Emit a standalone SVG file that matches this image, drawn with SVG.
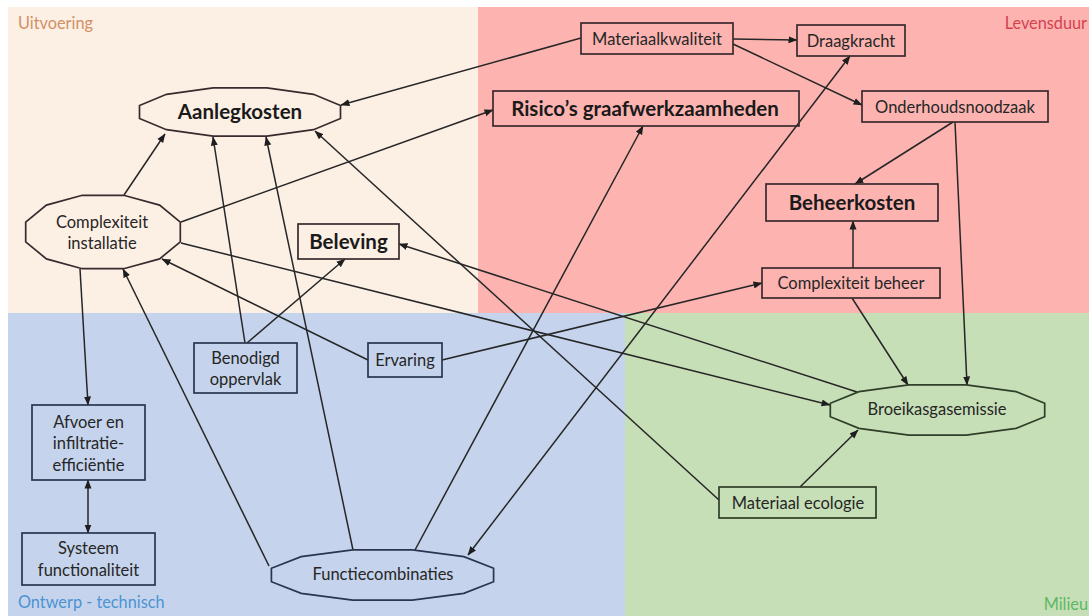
<svg xmlns="http://www.w3.org/2000/svg" width="1089" height="616" viewBox="0 0 1089 616">
<style>
.lbl{font-family:Lato,"Liberation Sans",sans-serif;font-size:16.5px;fill:#262626;text-anchor:middle}
.big{font-family:Lato,"Liberation Sans",sans-serif;font-size:20.5px;font-weight:bold;fill:#1a1a1a;text-anchor:middle}
.zone{font-family:Lato,"Liberation Sans",sans-serif;font-size:16.3px}
.box{fill:none;stroke:#3a2a2e;stroke-width:1.7}
.bb{fill:none;stroke:#2a3550;stroke-width:1.7}
.gb{fill:none;stroke:#2f3f28;stroke-width:1.7}
.c line{stroke:#262626;stroke-width:1.5;fill:none}
</style>
<defs>
<marker id="ah" markerWidth="9" markerHeight="8" refX="8.5" refY="4" orient="auto" markerUnits="userSpaceOnUse">
<path d="M0,0.5 L9,4 L0,7.5 z" fill="#1e1e1e"/>
</marker>
<marker id="at" markerWidth="9" markerHeight="8" refX="0.5" refY="4" orient="auto" markerUnits="userSpaceOnUse">
<path d="M9,0.5 L0,4 L9,7.5 z" fill="#1e1e1e"/>
</marker>
</defs>
<rect width="1089" height="616" fill="#ffffff"/>
<g id="background">
<rect x="8" y="7" width="470" height="306" fill="#fcefe4"/>
<rect x="478" y="7" width="611" height="306" fill="#fdb4b1"/>
<rect x="8" y="313" width="617" height="303" fill="#c5d4ec"/>
<rect x="625" y="313" width="464" height="303" fill="#c7dfb7"/>
<text class="zone" x="18" y="29" fill="#d39066">Uitvoering</text>
<text class="zone" x="1087" y="29" fill="#d2434e" text-anchor="end">Levensduur</text>
<text class="zone" x="18" y="608" fill="#4c93d3">Ontwerp - technisch</text>
<text class="zone" x="1088" y="610" fill="#5db865" text-anchor="end">Milieu</text>
</g>
<g class="c" id="connectors">
<line x1="581" y1="38" x2="341" y2="105" marker-end="url(#ah)"/>
<line x1="733" y1="39" x2="797" y2="40" marker-end="url(#ah)"/>
<line x1="733" y1="44" x2="862" y2="105" marker-end="url(#ah)"/>
<line x1="953" y1="122" x2="855" y2="184" marker-end="url(#ah)"/>
<line x1="955" y1="122" x2="967" y2="385" marker-end="url(#ah)"/>
<line x1="853" y1="268" x2="853" y2="221" marker-end="url(#ah)"/>
<line x1="852" y1="298" x2="908" y2="385" marker-end="url(#ah)"/>
<line x1="442" y1="360" x2="762" y2="283" marker-end="url(#ah)"/>
<line x1="368" y1="360" x2="162" y2="259" marker-end="url(#ah)"/>
<line x1="80" y1="269" x2="88" y2="405" marker-end="url(#ah)"/>
<line x1="88" y1="480" x2="88" y2="533" marker-start="url(#at)" marker-end="url(#ah)"/>
<line x1="124" y1="195" x2="165" y2="134" marker-end="url(#ah)"/>
<line x1="181" y1="222" x2="493" y2="110" marker-end="url(#ah)"/>
<line x1="181" y1="243" x2="830" y2="405" marker-end="url(#ah)"/>
<line x1="857" y1="392" x2="399" y2="244" marker-end="url(#ah)"/>
<line x1="247" y1="343" x2="345" y2="259" marker-end="url(#ah)"/>
<line x1="245" y1="343" x2="213" y2="137" marker-end="url(#ah)"/>
<line x1="269" y1="566" x2="123" y2="269" marker-end="url(#ah)"/>
<line x1="353" y1="550" x2="266" y2="137" marker-end="url(#ah)"/>
<line x1="415" y1="550" x2="643" y2="126" marker-end="url(#ah)"/>
<line x1="850" y1="56" x2="468" y2="555" marker-start="url(#at)" marker-end="url(#ah)"/>
<line x1="800" y1="487" x2="858" y2="430" marker-end="url(#ah)"/>
<line x1="719" y1="500" x2="315" y2="131" marker-end="url(#ah)"/>
</g>
<g id="aanlegkosten">
<polygon class="box" points="340.5,105.5 313.5,94.3 266.9,87.8 213.1,87.8 166.5,94.3 139.5,105.5 139.5,118.5 166.5,129.7 213.1,136.2 266.9,136.2 313.5,129.7 340.5,118.5"/>
<text class="big" x="240" y="119">Aanlegkosten</text>
</g>
<g id="risicos">
<rect class="box" x="493" y="91" width="306" height="35"/>
<text class="big" x="645" y="115.5">Risico’s graafwerkzaamheden</text>
</g>
<g id="materiaalkwaliteit">
<rect class="box" x="581" y="23" width="152" height="31"/>
<text class="lbl" x="657" y="44.5">Materiaalkwaliteit</text>
</g>
<g id="draagkracht">
<rect class="box" x="797" y="25" width="108" height="31"/>
<text class="lbl" x="851" y="46.5">Draagkracht</text>
</g>
<g id="onderhoudsnoodzaak">
<rect class="box" x="862" y="91" width="186" height="31"/>
<text class="lbl" x="955" y="112.5">Onderhoudsnoodzaak</text>
</g>
<g id="beheerkosten">
<rect class="box" x="766" y="184" width="172" height="37"/>
<text class="big" x="852" y="209.5">Beheerkosten</text>
</g>
<g id="complexiteit-beheer">
<rect class="box" x="762" y="268" width="178" height="30"/>
<text class="lbl" x="851" y="289">Complexiteit beheer</text>
</g>
<g id="broeikasgasemissie">
<polygon class="gb" points="1044.7,403.3 1016,391.6 966.2,384.9 908.8,384.9 859,391.6 830.3,403.3 830.3,416.7 859,428.4 908.8,435.1 966.2,435.1 1016,428.4 1044.7,416.7"/>
<text class="lbl" x="937" y="415">Broeikasgasemissie</text>
</g>
<g id="materiaal-ecologie">
<rect class="gb" x="719" y="487" width="157" height="31"/>
<text class="lbl" x="798" y="508.5">Materiaal ecologie</text>
</g>
<g id="complexiteit-installatie">
<polygon class="box" points="180.3,222.2 159.6,205.1 123.7,195.3 82.3,195.3 46.4,205.1 25.7,222.2 25.7,241.8 46.4,258.9 82.3,268.7 123.7,268.7 159.6,258.9 180.3,241.8"/>
<text class="lbl" x="102" y="228">Complexiteit</text>
<text class="lbl" x="102" y="249">installatie</text>
</g>
<g id="beleving">
<rect class="box" x="298" y="224" width="101" height="35"/>
<text class="big" x="348.5" y="248.5">Beleving</text>
</g>
<g id="benodigd-oppervlak">
<rect class="bb" x="194" y="343" width="103" height="50"/>
<text class="lbl" x="245.5" y="363.5">Benodigd</text>
<text class="lbl" x="245.5" y="385">oppervlak</text>
</g>
<g id="ervaring">
<rect class="bb" x="368" y="343" width="74" height="34"/>
<text class="lbl" x="405" y="366">Ervaring</text>
</g>
<g id="afvoer">
<rect class="bb" x="32" y="405" width="113" height="75"/>
<text class="lbl" x="88.5" y="428">Afvoer en</text>
<text class="lbl" x="88.5" y="449">infiltratie-</text>
<text class="lbl" x="88.5" y="471">efficiëntie</text>
</g>
<g id="systeem">
<rect class="bb" x="22" y="533" width="133" height="52"/>
<text class="lbl" x="88.5" y="554">Systeem</text>
<text class="lbl" x="88.5" y="576">functionaliteit</text>
</g>
<g id="functiecombinaties">
<polygon class="bb" points="493.6,568.3 463.8,556.6 412.3,549.9 352.7,549.9 301.2,556.6 271.4,568.3 271.4,581.7 301.2,593.4 352.7,600.1 412.3,600.1 463.8,593.4 493.6,581.7"/>
<text class="lbl" x="383" y="580">Functiecombinaties</text>
</g>
</svg>
